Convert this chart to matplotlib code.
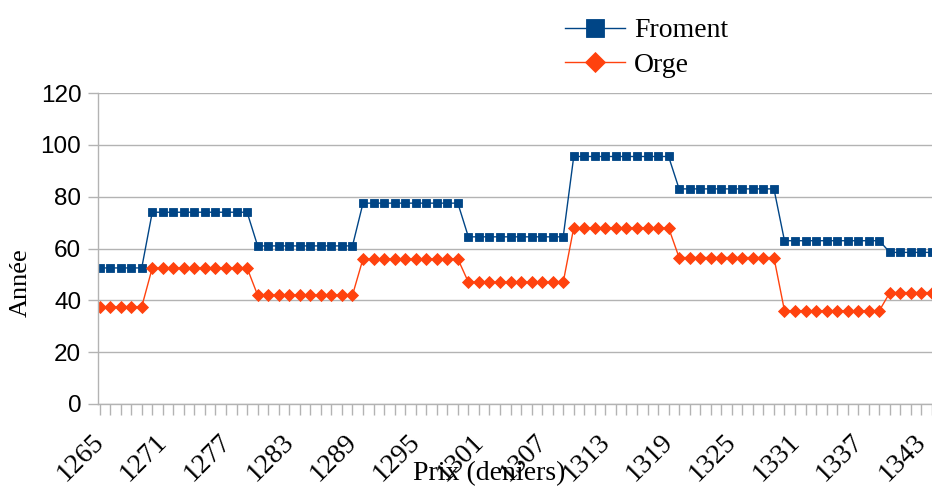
import matplotlib
matplotlib.use("Agg")
import matplotlib.pyplot as plt
from matplotlib.ticker import MultipleLocator, FixedLocator
from matplotlib.transforms import ScaledTranslation

years = list(range(1265, 1345))
froment = [52.5, 52.5, 52.5, 52.5, 52.5,
           74, 74, 74, 74, 74, 74, 74, 74, 74, 74,
           61, 61, 61, 61, 61, 61, 61, 61, 61, 61,
           77.5, 77.5, 77.5, 77.5, 77.5, 77.5, 77.5, 77.5, 77.5, 77.5,
           64.5, 64.5, 64.5, 64.5, 64.5, 64.5, 64.5, 64.5, 64.5, 64.5,
           95.5, 95.5, 95.5, 95.5, 95.5, 95.5, 95.5, 95.5, 95.5, 95.5,
           83, 83, 83, 83, 83, 83, 83, 83, 83, 83,
           63, 63, 63, 63, 63, 63, 63, 63, 63, 63,
           58.5, 58.5, 58.5, 58.5, 58.5]
orge = [37.5, 37.5, 37.5, 37.5, 37.5,
        52.5, 52.5, 52.5, 52.5, 52.5, 52.5, 52.5, 52.5, 52.5, 52.5,
        42, 42, 42, 42, 42, 42, 42, 42, 42, 42,
        56, 56, 56, 56, 56, 56, 56, 56, 56, 56,
        47, 47, 47, 47, 47, 47, 47, 47, 47, 47,
        68, 68, 68, 68, 68, 68, 68, 68, 68, 68,
        56.5, 56.5, 56.5, 56.5, 56.5, 56.5, 56.5, 56.5, 56.5, 56.5,
        36, 36, 36, 36, 36, 36, 36, 36, 36, 36,
        43, 43, 43, 43, 43]
tick_years = list(range(1265, 1345, 6))
yticks = [0, 20, 40, 60, 80, 100, 120]

serif = ["Liberation Serif", "DejaVu Serif"]
sans = ["Liberation Sans", "DejaVu Sans"]
BLUE = "#004586"
ORANGE = "#ff420e"
GRID = "#b3b3b3"

W, H = 932, 487
fig = plt.figure(figsize=(W / 100, H / 100), dpi=100)
ax = fig.add_axes([98 / W, 1 - 404 / H, (932 - 98) / W, (404 - 93) / H])

ax.plot(years, froment, color=BLUE, lw=1.0, marker="s", ms=6.3,
        mec=BLUE, mfc=BLUE, mew=0.6, label="Froment")
ax.plot(years, orge, color=ORANGE, lw=1.0, marker="D", ms=5.7,
        mec=ORANGE, mfc=ORANGE, mew=0.6, label="Orge")

ax.set_xlim(1264.85, 1344)
ax.set_ylim(0, 120)
ax.set_yticks(yticks)
ax.yaxis.grid(True, color=GRID, lw=1)
ax.set_axisbelow(True)

ax.xaxis.set_major_locator(FixedLocator(tick_years))
ax.xaxis.set_minor_locator(MultipleLocator(1))
ax.tick_params(axis="x", which="both", length=8, color=GRID, width=1,
               direction="out", pad=10)
ax.tick_params(axis="y", length=7, color=GRID, width=1, pad=5)

for s in ["top", "right"]:
    ax.spines[s].set_visible(False)
for s in ["left", "bottom"]:
    ax.spines[s].set_color(GRID)
    ax.spines[s].set_linewidth(1)

ax.set_xticklabels([str(y) for y in tick_years])
shift = ScaledTranslation(-8 / 100, 0, fig.dpi_scale_trans)
for lab in ax.get_xticklabels():
    lab.set_fontfamily(serif)
    lab.set_fontsize(20)
    lab.set_rotation(45)
    lab.set_ha("right")
    lab.set_va("top")
    lab.set_rotation_mode("anchor")
    lab.set_transform(lab.get_transform() + shift)
for lab in ax.get_yticklabels():
    lab.set_fontfamily(sans)
    lab.set_fontsize(17.5)

fig.text(489 / W, 1 - 474 / H, "Prix (deniers)", ha="center", va="center",
         fontsize=20, family=serif)
fig.text(21 / W, 1 - 283 / H, "Année", ha="center", va="center",
         rotation=90, fontsize=19, family=serif)

leg = fig.legend(loc="upper left", bbox_to_anchor=(565 / W, 1 - 18 / H),
                 frameon=False, prop={"family": serif, "size": 20},
                 handlelength=2.16, handletextpad=0.32, labelspacing=0.33,
                 borderpad=0, borderaxespad=0)
hs = leg.legend_handles
hs[0].set_markersize(12.5)
hs[1].set_markersize(10.5)

fig.savefig("out.png", dpi=100)
